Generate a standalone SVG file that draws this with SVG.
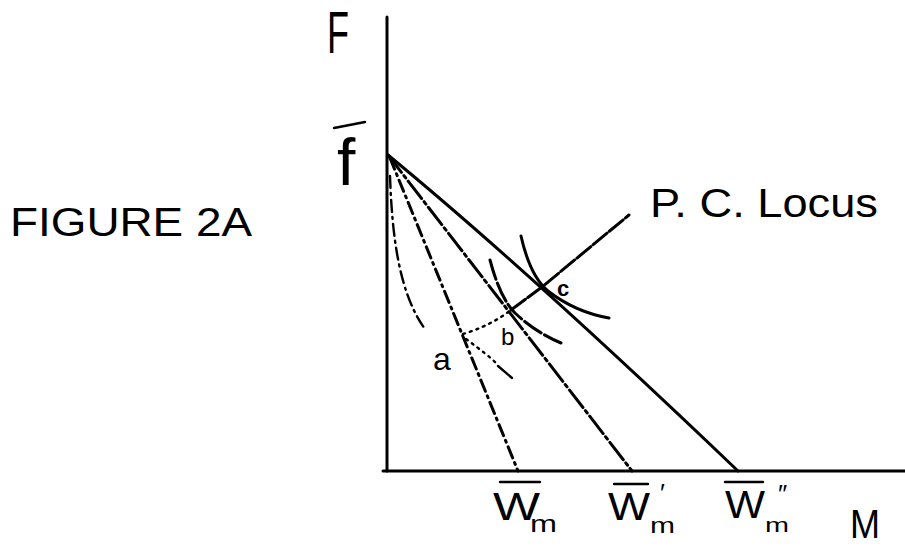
<svg xmlns="http://www.w3.org/2000/svg" width="905" height="546" viewBox="0 0 905 546">
<style>
  .ln { fill: none; stroke: #000; stroke-width: 3; stroke-linecap: round; stroke-linejoin: round; }
  .thin { fill: none; stroke: #000; stroke-width: 2.4; stroke-linecap: round; }
  .dashdot { stroke-dasharray: 12 5 2 5; }
  .dashdot2 { stroke-dasharray: 22 4 3 4; }
  .dot { stroke-dasharray: 2 5; }
  .dash { stroke-dasharray: 20 4; }
  .t { font-family: "Liberation Sans", Arial, sans-serif; fill: #000; }
</style>
<rect width="905" height="546" fill="#fff"/>

<g id="title">
  <text class="t" x="10" y="236" font-size="40" textLength="242" lengthAdjust="spacingAndGlyphs">FIGURE 2A</text>
</g>

<g id="axes">
  <line class="ln" x1="387" y1="17" x2="387" y2="471"/>
  <line class="ln" x1="383" y1="471" x2="905" y2="471"/>
  <text class="t" x="327" y="53" font-size="60" textLength="22" lengthAdjust="spacingAndGlyphs">F</text>
  <text class="t" x="850" y="538" font-size="40" textLength="30" lengthAdjust="spacingAndGlyphs">M</text>
</g>

<g id="f-bar">
  <line class="thin" x1="334" y1="128" x2="365" y2="122"/>
  <text class="t" x="337" y="185" font-size="66">f</text>
</g>

<g id="connectors">
  <path id="budget-w2" class="ln" d="M388,155 Q530,272 738,471"/>
  <path id="budget-w1" class="ln dashdot2" d="M388,155 L632,471"/>
  <path id="budget-w0" class="ln dashdot" d="M390,158 L518,471"/>
  <path id="locus-ab" class="thin dot" d="M463,334 Q490,326 511,310"/>
  <path id="locus-bc" class="ln" stroke-dasharray="18 3" d="M511,310 L542,287 L629,215"/>
</g>

<g id="curve-c">
  <path class="ln" d="M521,236 Q530,276 548,291 Q575,312 609,318"/>
  <text class="t" x="557" y="296" font-size="22" font-weight="bold">c</text>
</g>

<g id="curve-b">
  <path class="ln dash" d="M490,260 Q500,298 515,313 Q535,332 561,343"/>
  <text class="t" x="501" y="345" font-size="24">b</text>
</g>

<g id="curve-a">
  <path class="thin dashdot" d="M390,176 C392,232 398,292 425,329"/>
  <path class="thin dot" d="M466,339 Q488,355 496,363"/>
  <path class="thin" d="M498,366 L512,378"/>
  <text class="t" x="433" y="370" font-size="32">a</text>
</g>

<g id="label-wm">
  <line class="thin" x1="500" y1="482" x2="540" y2="482"/>
  <text class="t" x="493" y="520" font-size="38" textLength="47" lengthAdjust="spacingAndGlyphs">W</text>
  <text class="t" x="530" y="532" font-size="24" textLength="27" lengthAdjust="spacingAndGlyphs">m</text>
</g>

<g id="label-wm1">
  <line class="thin" x1="614" y1="484" x2="648" y2="484"/>
  <text class="t" x="608" y="520" font-size="38" textLength="42" lengthAdjust="spacingAndGlyphs">W</text>
  <text class="t" x="660" y="502" font-size="26">′</text>
  <text class="t" x="650" y="533" font-size="22" textLength="25" lengthAdjust="spacingAndGlyphs">m</text>
</g>

<g id="label-wm2">
  <line class="thin" x1="725" y1="482" x2="763" y2="482"/>
  <text class="t" x="725" y="518" font-size="38" textLength="40" lengthAdjust="spacingAndGlyphs">W</text>
  <text class="t" x="778" y="503" font-size="26">″</text>
  <text class="t" x="765" y="532" font-size="20" textLength="24" lengthAdjust="spacingAndGlyphs">m</text>
</g>

<g id="label-locus">
  <text class="t" x="650" y="217" font-size="40" textLength="228" lengthAdjust="spacingAndGlyphs">P. C. Locus</text>
</g>
</svg>
